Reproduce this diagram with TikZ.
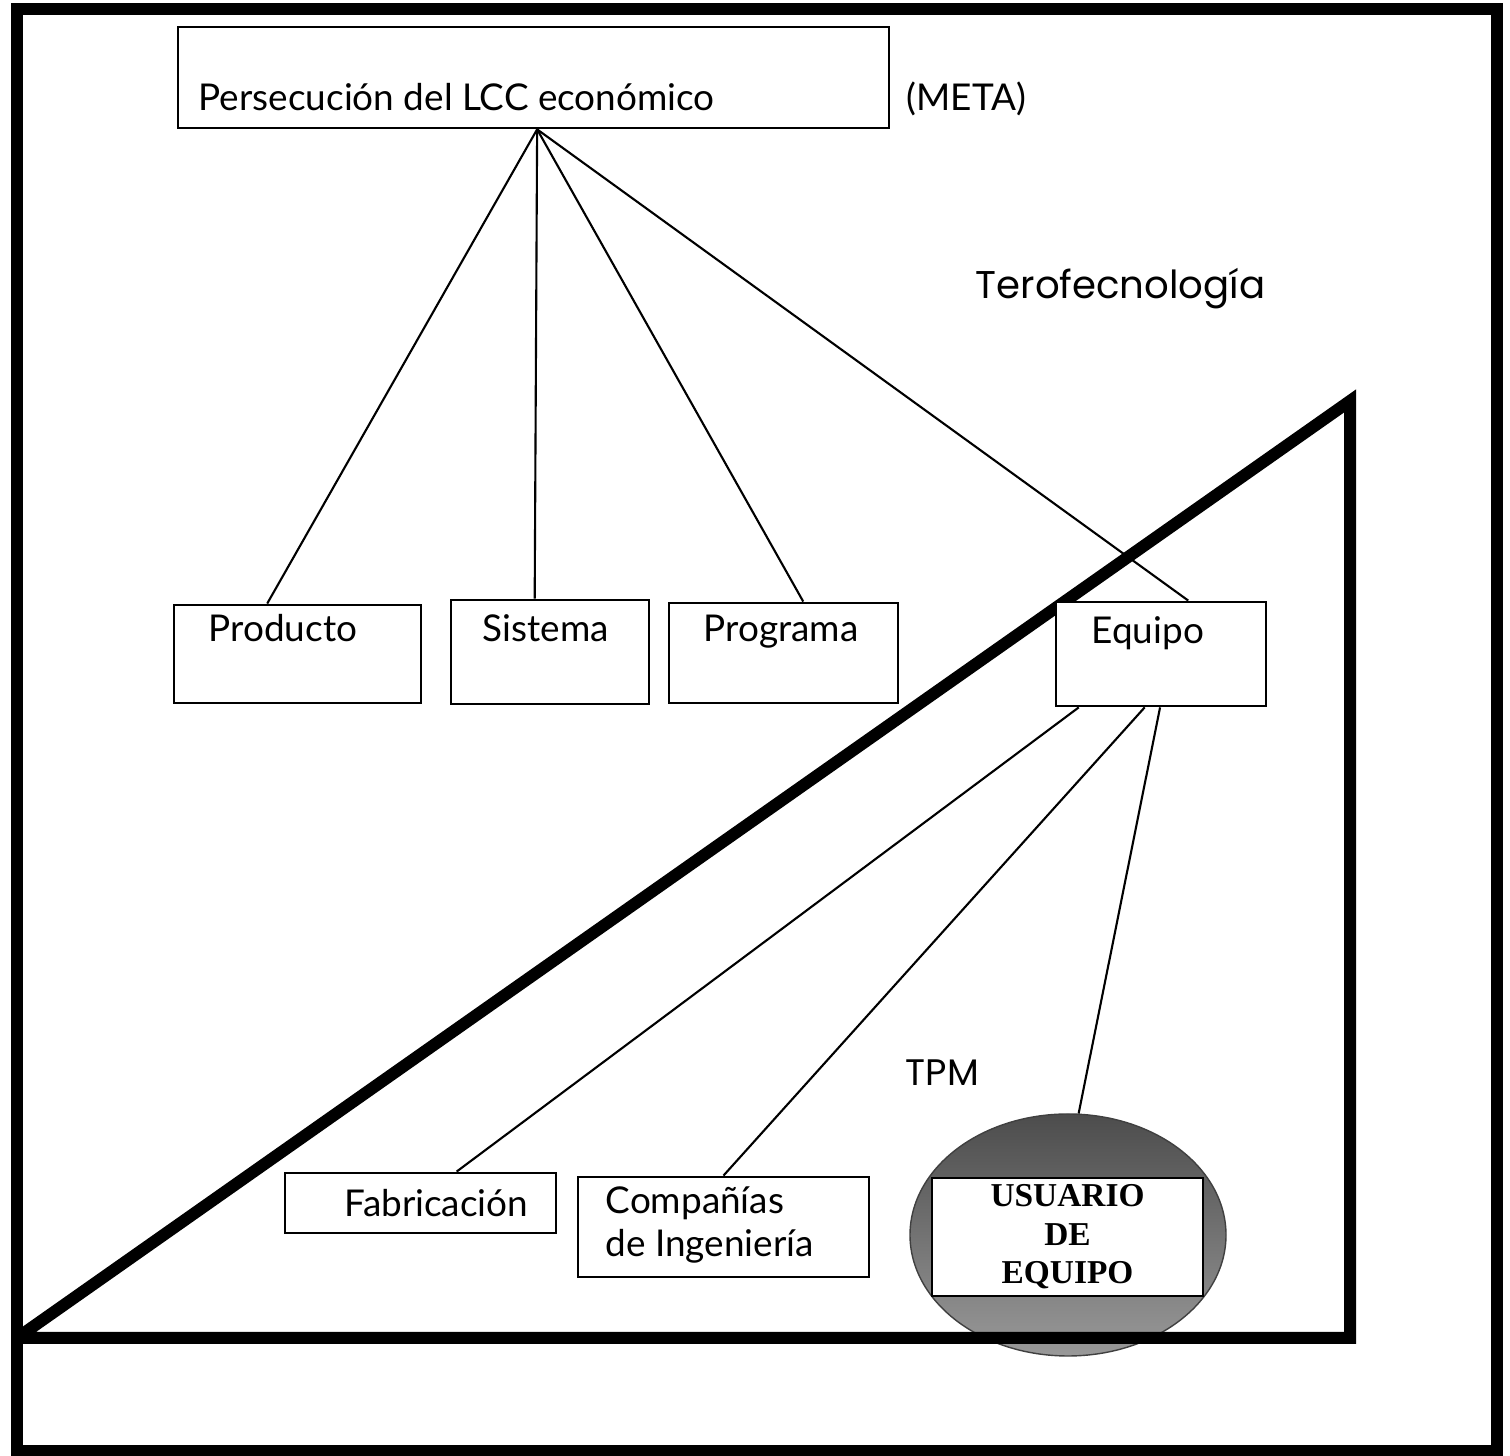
\documentclass[tikz,border=0pt]{standalone}
\usepackage{fontspec}
\setmainfont{Lato}
\newfontfamily\geofont{Poppins}
\newfontfamily\titfont{Liberation Serif}
\usetikzlibrary{shapes.geometric}

\begin{document}
\begin{tikzpicture}[
    caja/.style={
        rectangle,
        draw=black,
        fill=white,
        line width=0.8pt,
        inner sep=0pt
    },
    etiqueta/.style={
        anchor=base west,
        inner sep=0pt,
        font=\fontsize{10.5}{12.5}\selectfont
    },
    geotexto/.style={
        etiqueta,
        font=\geofont\fontsize{10.5}{12}\selectfont
    },
    conexion/.style={
        draw=black,
        line width=0.6pt
    },
    grueso/.style={
        draw=black,
        line width=1.2mm
    }
]

\useasboundingbox (0,0) rectangle (15.1,14.56);

% Marco
\draw[grueso] (0.17,0.05) rectangle (14.97,14.47);

% Usuario de equipo
\node[ellipse, draw=black!75, top color=black!70, bottom color=black!40,
      minimum width=3.16cm, minimum height=2.42cm, inner sep=0pt] (usuario) at (10.68,2.21) {};
\node[caja, minimum width=2.71cm, minimum height=1.18cm, align=center,
      font=\titfont\bfseries\fontsize{9.5}{11}\selectfont] (usuariotxt) at (10.675,2.19)
    {USUARIO\\DE\\EQUIPO};

% Triangulo
\draw[grueso] (0.17,1.18) -- (13.50,10.55) -- (13.50,1.18) -- (0.17,1.18);

% Cajas
\node[caja, minimum width=7.11cm, minimum height=1.01cm] (meta) at (5.335,13.785) {};
\node[caja, minimum width=2.47cm, minimum height=0.98cm] (producto) at (2.975,8.02) {};
\node[caja, minimum width=1.98cm, minimum height=1.04cm] (sistema) at (5.50,8.04) {};
\node[caja, minimum width=2.29cm, minimum height=1.00cm] (programa) at (7.835,8.03) {};
\node[caja, minimum width=2.10cm, minimum height=1.04cm] (equipo) at (11.61,8.02) {};
\node[caja, minimum width=2.71cm, minimum height=0.60cm] (fabricacion) at (4.205,2.53) {};
\node[caja, minimum width=2.91cm, minimum height=1.00cm] (companias) at (7.235,2.29) {};

% Textos
\node[etiqueta] (metatxt) at (1.98,13.45) {Persecución del LCC económico};
\node[etiqueta] (metaetq) at (9.06,13.45) {(META)};
\node[etiqueta] (productotxt) at (2.08,8.14) {Producto};
\node[etiqueta] (sistematxt) at (4.82,8.14) {Sistema};
\node[etiqueta] (programatxt) at (7.03,8.14) {Programa};
\node[etiqueta] (equipotxt) at (10.91,8.12) {Equipo};
\node[etiqueta] (fabricaciontxt) at (3.44,2.39) {Fabricación};
\node[etiqueta, anchor=west, align=left] (companiastxt) at (6.05,2.31)
    {Compañías\\de Ingeniería};
\node[geotexto, font=\geofont\fontsize{11}{12}\selectfont] (tero) at (9.75,11.57) {Terofecnología};
\node[geotexto] (tpm) at (9.05,3.70) {TPM};

% Conexiones
\foreach \b/\a in {producto/121, sistema/106, programa/69, equipo/63}
    \draw[conexion] (meta.-86) -- (\b.\a);

\draw[conexion] (equipo.213) -- (fabricacion.41);
\draw[conexion] (equipo.253) -- (companias.north);
\draw[conexion] (equipo.269) -- (usuario.85);

\end{tikzpicture}
\end{document}
